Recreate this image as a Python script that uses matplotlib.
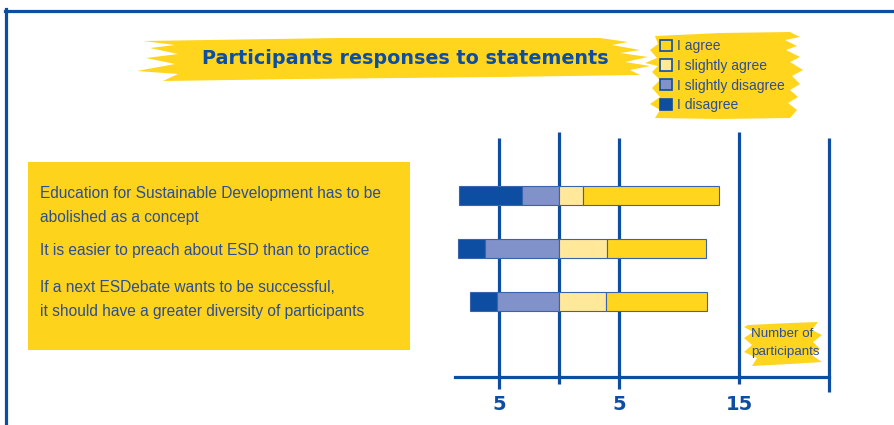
import matplotlib
matplotlib.use('Agg')
import matplotlib.pyplot as plt
import matplotlib.transforms as mtransforms
from matplotlib.patches import Polygon, Rectangle, Patch
from matplotlib.lines import Line2D
import numpy as np

# data (number of participants)
statements = [
    "Education for Sustainable Development has to be\nabolished as a concept",
    "It is easier to preach about ESD than to practice",
    "If a next ESDebate wants to be successful,\nit should have a greater diversity of participants",
]
disagree = [5.2, 2.2, 2.2]
slightly_disagree = [3.1, 6.2, 5.2]
slightly_agree = [2.0, 4.0, 3.9]
agree = [11.3, 8.25, 8.4]
tick_pos = [-5, 5, 15]
tick_labels = ["5", "5", "15"]
legend_labels = ["I agree", "I slightly agree", "I slightly disagree", "I disagree"]

BLUE = '#0D4EA2'
TEXT_BLUE = '#2B4E96'
DARK = '#0D4EA2'
MEDIUM = '#8191C9'
LIGHT = '#FFE899'
YELLOW = '#FFD51E'
BOX = '#FDD31C'
NARROW = ['Liberation Sans', 'DejaVu Sans']

W, H = 895, 425


def px(points):
    # pixel coords -> figure fraction
    return [(x / W, 1 - y / H) for x, y in points]


fig = plt.figure(figsize=(W / 100, H / 100), dpi=100)

# frame lines top and left
fig.add_artist(Line2D([5 / W, 1], [1 - 10.5 / H] * 2, color=BLUE, lw=2.3))
fig.add_artist(Line2D([6.5 / W] * 2, [1 - 9 / H, 0], color=BLUE, lw=2.3))

# title banner
title_pts = [(143, 41), (340, 38), (600, 38), (628, 42), (612, 45), (640, 50), (620, 53),
             (648, 57), (625, 62), (650, 66), (630, 70), (640, 75), (500, 77), (300, 79),
             (163, 81), (178, 74), (137, 71), (175, 64), (146, 58), (178, 54), (150, 48), (175, 45)]
fig.patches.append(Polygon(px(title_pts), closed=True, facecolor=YELLOW, edgecolor='none',
                           transform=fig.transFigure))
fig.text(405 / W, 1 - 58 / H, "Participants responses to statements", color=BLUE,
         fontsize=13.8, fontweight='bold', ha='center', va='center')

# legend banner
leg_pts = [(655, 36), (720, 33), (790, 32), (800, 37), (785, 40), (797, 46), (786, 50),
           (800, 57), (790, 62), (803, 70), (792, 76), (800, 84), (790, 90), (798, 97),
           (788, 103), (797, 110), (790, 118), (720, 119), (655, 118), (660, 110), (650, 104),
           (660, 97), (652, 88), (660, 80), (652, 72), (658, 66), (645, 63), (657, 58),
           (650, 50), (658, 44)]
fig.patches.append(Polygon(px(leg_pts), closed=True, facecolor=YELLOW, edgecolor='none',
                           transform=fig.transFigure))

# statements box
fig.patches.append(Rectangle((28 / W, 1 - 350 / H), (410 - 28) / W, (350 - 162) / H,
                             facecolor=BOX, edgecolor='none', transform=fig.transFigure))
stmt_y = [205.5, 250, 299.5]
for s, yy in zip(statements, stmt_y):
    fig.text(40 / W, 1 - yy / H, s, color=TEXT_BLUE, fontsize=11.2, family=NARROW,
             ha='left', va='center', linespacing=1.75)

# number of participants banner
nop_pts = [(748, 325), (790, 323), (818, 322), (812, 330), (822, 335), (813, 342), (820, 349),
           (812, 355), (822, 362), (790, 364), (752, 366), (757, 358), (744, 352), (752, 345),
           (744, 338), (753, 332), (744, 327)]
fig.patches.append(Polygon(px(nop_pts), closed=True, facecolor=YELLOW, edgecolor='none',
                           transform=fig.transFigure))
fig.text(751 / W, 1 - 343 / H, "Number of\nparticipants", color=TEXT_BLUE, fontsize=9.6,
         family=NARROW, ha='left', va='center', linespacing=1.65)

# main chart
ax = fig.add_axes([455 / W, 1 - 377 / H, (829 - 455) / W, (377 - 132) / H])
ax.set_xlim(-104 / 12, 270 / 12)
ax.set_ylim(3.425, -1.198)
ax.patch.set_alpha(0)

y = np.arange(len(statements))
d = np.array(disagree)
sd = np.array(slightly_disagree)
sa = np.array(slightly_agree)
a = np.array(agree)
bh = 0.36
kw = dict(height=bh, edgecolor='#3A63AE', linewidth=0.8, zorder=3)
ax.barh(y, d, left=-(d + sd), color=DARK, **kw)
ax.barh(y, sd, left=-sd, color=MEDIUM, **kw)
ax.barh(y, sa, left=0, color=LIGHT, **kw)
ax.barh(y, a, left=sa, color=YELLOW, **kw)

# vertical reference lines
trans = mtransforms.blended_transform_factory(ax.transData, ax.transAxes)
grid_x = [-5, 0, 5, 15, 22.5]
grid_top = [0.9755, 1.0, 0.9755, 1.0, 0.9755]
grid_bot = [-0.049, -0.0286, -0.049, -0.0286, -0.061]
for gx, gt, gb in zip(grid_x, grid_top, grid_bot):
    ax.plot([gx, gx], [gb, gt], color=BLUE, lw=2.3, transform=trans, clip_on=False,
            zorder=1, solid_capstyle='butt')

for side in ['top', 'right', 'left']:
    ax.spines[side].set_visible(False)
ax.spines['bottom'].set_color(BLUE)
ax.spines['bottom'].set_linewidth(2.3)
ax.set_yticks([])
ax.set_xticks(tick_pos, tick_labels)
ax.tick_params(axis='x', length=0, pad=13, labelcolor=BLUE, labelsize=14)
for t in ax.get_xticklabels():
    t.set_fontweight('bold')

# legend
handles = [Patch(facecolor=c, edgecolor=BLUE, linewidth=1.2) for c in [YELLOW, LIGHT, MEDIUM, DARK]]
fig.legend(handles, legend_labels, loc='upper left', bbox_to_anchor=(660 / W, 1 - 39 / H),
           frameon=False, prop={'family': NARROW, 'size': 10}, labelcolor=TEXT_BLUE,
           handlelength=0.85, handleheight=0.85, handletextpad=0.4, labelspacing=0.42,
           borderpad=0, borderaxespad=0)

fig.savefig('out.png', dpi=100)
